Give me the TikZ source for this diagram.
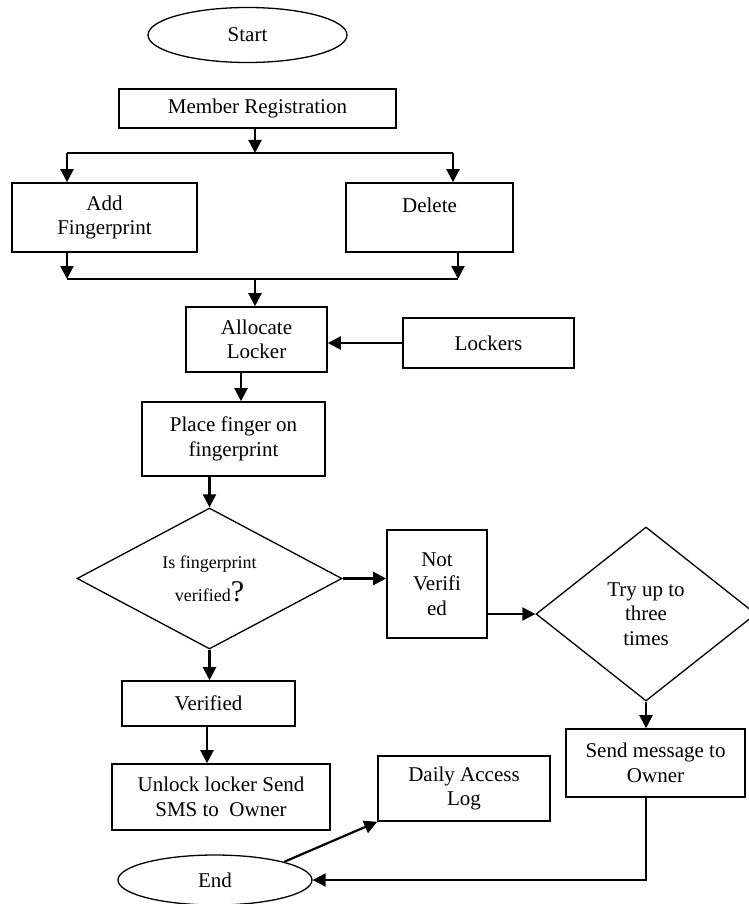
\documentclass[tikz,border=0pt]{standalone}
\usepackage{fontspec}
\setmainfont{Liberation Serif}
\usepackage{tikz}
\usetikzlibrary{arrows.meta,positioning,shapes.geometric}
\tikzset{
  blk/.style   ={draw,line width=1.6pt,align=center,inner sep=0pt,font=\fontsize{21}{24.5}\selectfont},
  dec/.style   ={blk,diamond,line width=1.3pt},
  term/.style  ={blk,ellipse,line width=1.3pt},
  flow/.style  ={-{Triangle[length=13pt,width=13pt]},line width=2.2pt},
  rail/.style  ={line width=2pt},
}

\begin{document}
\begin{tikzpicture}[x=1pt,y=-1pt]
  \useasboundingbox (0,0) rectangle (748,904);
  % registration part
  \node[term,minimum width=199pt,minimum height=55pt] (start) at (247.5,35) {Start};
  \node[blk,minimum width=277pt,minimum height=39pt] (member) at (257.5,108.5) {Member Registration};
  \node[blk,minimum width=185pt,minimum height=69pt] (add) at (104.5,217.5) {Add\\Fingerprint};
  \node[blk,minimum width=167pt,minimum height=69pt] (delete) at (429.5,217.5) {Delete\\\mbox{}};
  \node[blk,minimum width=141pt,minimum height=65pt] (allocate) at (256.5,339.5) {Allocate\\Locker};
  \node[blk,minimum width=171pt,minimum height=50pt] (lockers) at (488.5,343) {Lockers};
  % verification part
  \node[blk,minimum width=183pt,minimum height=74pt] (place) at (233.5,439) {Place finger on\\fingerprint};
  \node[dec,minimum width=265pt,minimum height=141pt,font=\fontsize{18}{33}\selectfont] (dec1) at (209.5,578.5)
       {Is fingerprint\\verified{\fontsize{30}{30}\selectfont ?}};
  \node[blk,minimum width=100pt,minimum height=108pt] (notver) at (437,584) {Not\\Verifi\\ed};
  \node[dec,minimum width=220pt,minimum height=174pt] (dec2) at (646,614) {Try up to\\three\\times};
  \node[blk,minimum width=173pt,minimum height=45pt] (verified) at (208.5,703.5) {Verified};
  \node[blk,minimum width=218pt,minimum height=66pt] (unlock) at (221,797) {Unlock locker Send\\SMS to~ Owner};
  \node[blk,minimum width=172pt,minimum height=65pt] (daily) at (464,788.5) {Daily Access\\Log};
  \node[blk,minimum width=179pt,minimum height=68pt] (sendmsg) at (655.5,763) {Send message to\\Owner};
  \node[term,minimum width=194pt,minimum height=50pt] (end) at (215,880) {End};
  % fork and join
  \coordinate (fork) at (255,153);  \coordinate (forkL) at (67,153);  \coordinate (forkR) at (453,153);
  \coordinate (join) at (255,279);  \coordinate (joinL) at (67,279);  \coordinate (joinR) at (458,279);
  \draw[flow] (member.south -| fork) -- (fork);
  \draw[rail] (forkL) -- (forkR);
  \draw[flow] (forkL) -- (add.north -| forkL);
  \draw[flow] (forkR) -- (delete.north -| forkR);
  \draw[flow] (add.south -| joinL) -- (joinL);
  \draw[flow] (delete.south -| joinR) -- (joinR);
  \draw[rail] (joinL) -- (joinR);
  \draw[flow] (join) -- (allocate.north -| join);
  \draw[flow] (lockers.west) -- (allocate.east |- lockers.west);
  \draw[flow] ([xshift=-15.5pt]allocate.south) -- ([xshift=-15.5pt]allocate.south |- place.north);
  \draw[flow] (place.south -| dec1.north) -- (dec1.north);
  \draw[flow] (dec1.east) -- (dec1.east -| notver.west);
  \draw[flow] (dec2.west -| notver.east) -- (dec2.west);
  \draw[flow] (dec2.south) -- (dec2.south |- sendmsg.north);
  \draw[flow] (dec1.south) -- (dec1.south |- verified.north);
  \draw[flow] ([xshift=-1.5pt]verified.south) -- ([xshift=-1.5pt]verified.south |- unlock.north);
  \draw[flow] (dec2.south |- sendmsg.south) -- (dec2.south |- end.east) -- (end.east);
  \draw[flow] (end.north east) -- (daily.south west);
\end{tikzpicture}
\end{document}
